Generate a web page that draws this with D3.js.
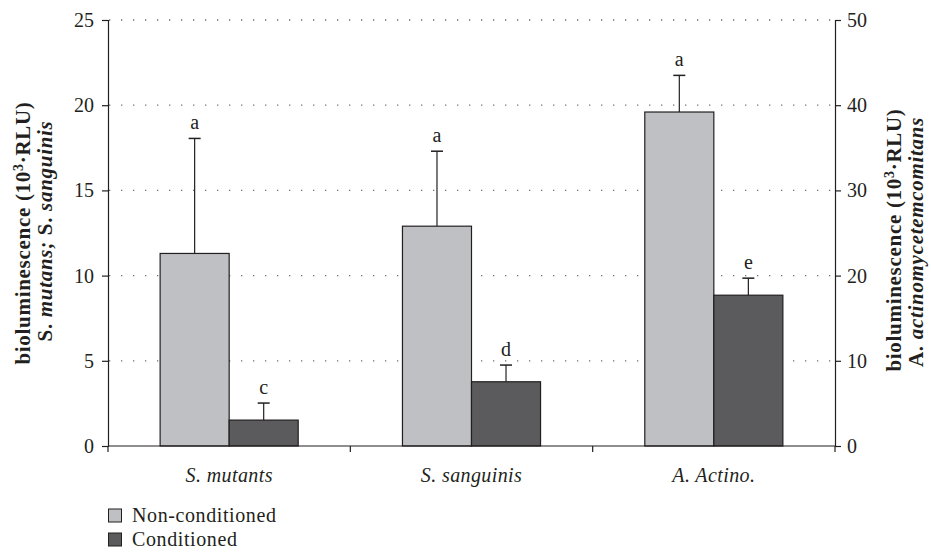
<!DOCTYPE html>
<html><head><meta charset="utf-8">
<script src="https://cdn.jsdelivr.net/npm/d3@7"></script>
<style>body{margin:0;background:#fff}svg{display:block}text{font-family:"Liberation Serif","Times New Roman",serif;fill:#231f20}</style>
</head><body><svg id="c" width="931" height="552"></svg>
<script>
const categories = ["S. mutants", "S. sanguinis", "A. Actino."];
const series = ["Non-conditioned", "Conditioned"];
// values (10^3 RLU); A. Actino. read on the secondary (right) axis
const nonConditioned = [11.3, 12.9, 39.2];
const nonConditionedErr = [18.05, 17.3, 43.5];
const conditioned = [1.52, 3.77, 17.7];
const conditionedErr = [2.52, 4.75, 19.7];
const nonCondLetters = ["a", "a", "a"];
const condLetters = ["c", "d", "e"];
const axisSide = ["left", "left", "right"];
const leftTicks = [0, 5, 10, 15, 20, 25];
const rightTicks = [0, 10, 20, 30, 40, 50];
const colors = {"Non-conditioned": "#bfc0c3", "Conditioned": "#5b5b5d"};

const svg = d3.select("#c");
const L = 108, R = 835, T = 20, B = 446;
const x = d3.scaleBand().domain(categories).range([L, R]).paddingInner(0).paddingOuter(0);
const sub = d3.scaleBand().domain(series).range([0, x.bandwidth()]).paddingInner(0).paddingOuter(0.755);
const yL = d3.scaleLinear().domain([0, 25]).range([B, T]);
const yR = d3.scaleLinear().domain([0, 50]).range([B, T]);
const yOf = i => axisSide[i] === "left" ? yL : yR;

// gridlines
svg.append("g").selectAll("line").data(leftTicks.filter(d => d > 0)).join("line")
  .attr("x1", L + 1).attr("x2", R).attr("y1", d => yL(d)).attr("y2", d => yL(d))
  .attr("stroke", "#6d6e71").attr("stroke-width", 1.3).attr("stroke-dasharray", "1.3 10.7");

const data = [];
categories.forEach((c, i) => {
  data.push({c, i, s: series[0], v: nonConditioned[i], e: nonConditionedErr[i], t: nonCondLetters[i]});
  data.push({c, i, s: series[1], v: conditioned[i], e: conditionedErr[i], t: condLetters[i]});
});
const g = svg.append("g");
const cx = d => x(d.c) + sub(d.s) + sub.bandwidth() / 2;
// error bars
g.selectAll("line.err").data(data).join("line").attr("class", "err")
  .attr("x1", cx).attr("x2", cx).attr("y1", d => yOf(d.i)(d.v)).attr("y2", d => yOf(d.i)(d.e))
  .attr("stroke", "#231f20").attr("stroke-width", 1.2);
g.selectAll("line.cap").data(data).join("line").attr("class", "cap")
  .attr("x1", d => cx(d) - 6).attr("x2", d => cx(d) + 6).attr("y1", d => yOf(d.i)(d.e)).attr("y2", d => yOf(d.i)(d.e))
  .attr("stroke", "#231f20").attr("stroke-width", 1.5);
g.selectAll("rect").data(data).join("rect")
  .attr("x", d => x(d.c) + sub(d.s)).attr("width", sub.bandwidth())
  .attr("y", d => yOf(d.i)(d.v)).attr("height", d => B - yOf(d.i)(d.v))
  .attr("fill", d => colors[d.s]).attr("stroke", "#231f20").attr("stroke-width", 1.2);
g.selectAll("text.lt").data(data).join("text").attr("class", "lt")
  .attr("x", cx).attr("y", d => yOf(d.i)(d.e) - 9).attr("text-anchor", "middle")
  .attr("font-size", 20).text(d => d.t);

// axes
const axL = svg.append("g").attr("transform", `translate(${L},0)`)
  .call(d3.axisLeft(yL).tickValues(leftTicks).tickSize(6).tickPadding(8));
const axR = svg.append("g").attr("transform", `translate(${R},0)`)
  .call(d3.axisRight(yR).tickValues(rightTicks).tickSize(6).tickPadding(6));
const axB = svg.append("g").attr("transform", `translate(0,${B})`)
  .call(d3.axisBottom(x).tickSize(0).tickPadding(22));
[axL, axR, axB].forEach(a => {
  a.select(".domain").attr("stroke", "#231f20").attr("stroke-width", 1.2);
  a.selectAll(".tick line").attr("stroke", "#231f20").attr("stroke-width", 1.2);
  a.selectAll("text").attr("font-size", 20).attr("font-family", "Liberation Serif").attr("fill", "#231f20");
});
axB.select(".domain").attr("d", `M${L},0H${R}`);
axB.selectAll("text").attr("font-style", "italic").attr("font-size", 20).attr("letter-spacing", 0.4);
// boundary ticks between categories
svg.append("g").selectAll("line").data([...categories.map(c => x(c)), R]).join("line")
  .attr("x1", d => d).attr("x2", d => d).attr("y1", B).attr("y2", B + 6)
  .attr("stroke", "#231f20").attr("stroke-width", 1.2);

// axis titles
function title(xp, yp, parts) {
  const t = svg.append("text").attr("transform", `translate(${xp},${yp}) rotate(-90)`)
    .attr("text-anchor", "middle").attr("font-size", 21).attr("font-weight", "bold")
    .attr("letter-spacing", 0.7);
  parts.forEach(p => {
    const s = t.append("tspan").text(p.t);
    if (p.i) s.attr("font-style", "italic");
    if (p.sup) s.attr("baseline-shift", "super").attr("font-size", 14);
  });
}
title(30, 233, [{t: "bioluminescence (10"}, {t: "3", sup: 1}, {t: "·RLU)"}]);
title(52, 231, [{t: "S. "}, {t: "mutans; ", i: 1}, {t: "S. "}, {t: "sanguinis", i: 1}]);
title(901, 240, [{t: "bioluminescence (10"}, {t: "3", sup: 1}, {t: "·RLU)"}]);
title(923, 242, [{t: "A. "}, {t: "actinomycetemcomitans", i: 1}]);

// legend
const lg = svg.append("g").attr("transform", "translate(108,509)");
series.forEach((s, i) => {
  lg.append("rect").attr("x", 0.5).attr("y", i * 24).attr("width", 13).attr("height", 13)
    .attr("fill", colors[s]).attr("stroke", "#231f20").attr("stroke-width", 1);
  lg.append("text").attr("x", 24).attr("y", i * 24 + 13).attr("font-size", 20)
    .attr("letter-spacing", 0.6).text(s);
});
</script></body></html>
